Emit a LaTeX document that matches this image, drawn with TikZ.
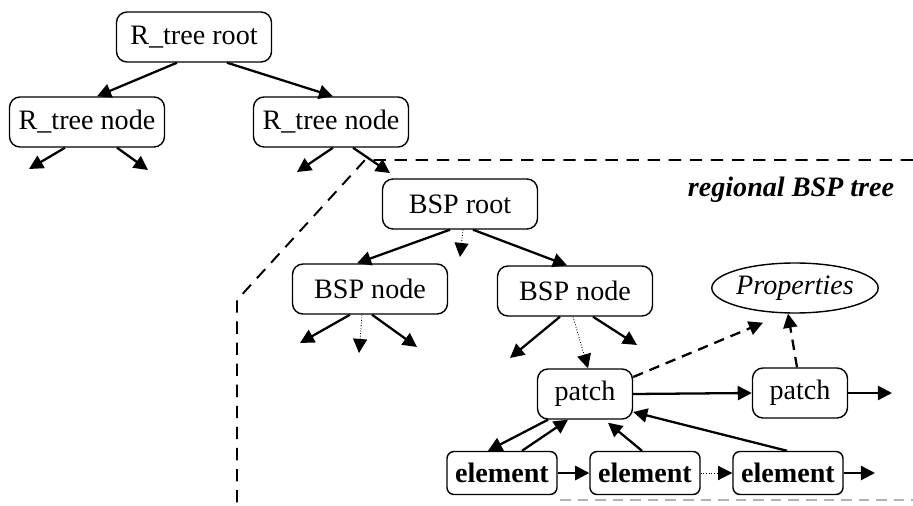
\documentclass[tikz,border=0pt]{standalone}
\usepackage{fontspec}
\setmainfont{Liberation Serif}
\usetikzlibrary{calc, shapes.geometric, arrows.meta}

\begin{document}
\begin{tikzpicture}[x=0.2mm, y=-0.2mm,
    every node/.style={font=\fontsize{16}{19}\selectfont, inner sep=0pt},
    tnode/.style={draw, rounded corners=6pt, line width=0.8pt, minimum width=31mm, minimum height=10mm},
    pnode/.style={tnode, minimum width=19mm},
    enode/.style={draw, rounded corners=4pt, line width=0.8pt, minimum width=22mm, minimum height=8.6mm, font=\fontsize{16}{19}\selectfont\bfseries},
    link/.style={line width=1.3pt, -{Triangle[length=8pt,width=8pt]}},
    dotlink/.style={link, line width=0.5pt, densely dotted},
    dashlink/.style={link, dash pattern=on 6pt off 4pt}]
    \useasboundingbox (0,0) rectangle (913,506);

    % Region of the BSP tree
    \draw[line width=1.1pt, dash pattern=on 7pt off 5pt] (913,160) -- (365,160) -- (237,300) -- (237,506);
    \draw[gray!60, line width=0.8pt, dash pattern=on 6pt off 4pt] (560,500) -- (913,500);
    \node[font=\fontsize{16}{19}\selectfont\bfseries\itshape] (label) at (791,190) {regional BSP tree};

    % R_tree
    \node[tnode] (rroot) at (194,37) {R\_tree root};
    \node[tnode] (rleft) at (87,122) {R\_tree node};
    \node[tnode] (rright) at (331,122) {R\_tree node};

    % BSP tree
    \node[tnode] (broot) at (460,204) {BSP root};
    \node[tnode] (bleft) at (370,289) {BSP node};
    \node[tnode] (bright) at (575,291) {BSP node};

    % Patches and elements
    \node[draw, ellipse, line width=0.8pt, minimum width=31mm, minimum height=10mm, font=\fontsize{16}{19}\selectfont\itshape] (props) at (795,288) {Properties};
    \node[pnode] (patchA) at (585,394) {patch};
    \node[pnode] (patchB) at (800,393) {patch};
    \node[enode] (elemA) at (502,473) {element};
    \node[enode] (elemB) at (645,473) {element};
    \node[enode] (elemC) at (788,473) {element};

    % Free ends
    \coordinate (rl1) at (29,169);
    \coordinate (rl2) at (148,170);
    \coordinate (rr1) at (297,172);
    \coordinate (rr2) at (390,173);
    \coordinate (bm) at (460,257);
    \coordinate (bl1) at (300,343);
    \coordinate (bl2) at (359,353);
    \coordinate (bl3) at (417,347);
    \coordinate (br1) at (510,358);
    \coordinate (br2) at (637,345);
    \coordinate (pn) at (892,393);
    \coordinate (en) at (875,473);

    % Links
    \draw[link] ($(rroot.south)+(-17,0)$) -- ($(rleft.north)+(10,0)$);
    \draw[link] ($(rroot.south)+(33,0)$) -- ($(rright.north)+(2,0)$);
    \draw[link] ($(rleft.south)+(-22,0)$) -- (rl1);
    \draw[link] ($(rleft.south)+(30,0)$) -- (rl2);
    \draw[link] ($(rright.south)+(2,0)$) -- (rr1);
    \draw[link] ($(rright.south)+(22,0)$) -- (rr2);

    \draw[link] ($(broot.south)+(-10,0)$) -- ($(bleft.north)+(-13,0)$);
    \draw[link] ($(broot.south)+(13,0)$) -- ($(bright.north)+(-8,0)$);
    \draw[dotlink] ($(broot.south)+(3,0)$) -- (bm);
    \draw[link] ($(bleft.south)+(-20,0)$) -- (bl1);
    \draw[dotlink] ($(bleft.south)+(-8,0)$) -- (bl2);
    \draw[link] ($(bleft.south)+(2,0)$) -- (bl3);
    \draw[link] ($(bright.south)+(-15,0)$) -- (br1);
    \draw[link] ($(bright.south)+(18,0)$) -- (br2);
    \draw[dotlink] ($(bright.south)+(-2,0)$) -- ($(patchA.north)+(3,0)$);

    \draw[link] (patchA.east) -- (patchB.west);
    \draw[link] (patchB.east) -- (pn);
    \draw[dashlink] ($(patchA.east)+(0,-17)$) -- ($(props.south)+(-32,9)$);
    \draw[dashlink] ($(patchB.north)+(-3,0)$) -- ($(props.south)+(-7,0)$);

    \draw[link] (elemA.east) -- (elemB.west);
    \draw[dotlink] (elemB.east) -- (elemC.west);
    \draw[link] (elemC.east) -- (en);
    \draw[link] ($(patchA.south)+(-37,0)$) -- ($(elemA.north)+(-14,0)$);
    \draw[link] ($(elemA.north)+(20,0)$) -- ($(patchA.south)+(-17,0)$);
    \draw[link] ($(elemB.north)+(-3,0)$) -- ($(patchA.south)+(23,3)$);
    \draw[link] ($(elemC.north)+(-1,0)$) -- ($(patchA.east)+(0,18)$);
\end{tikzpicture}
\end{document}
